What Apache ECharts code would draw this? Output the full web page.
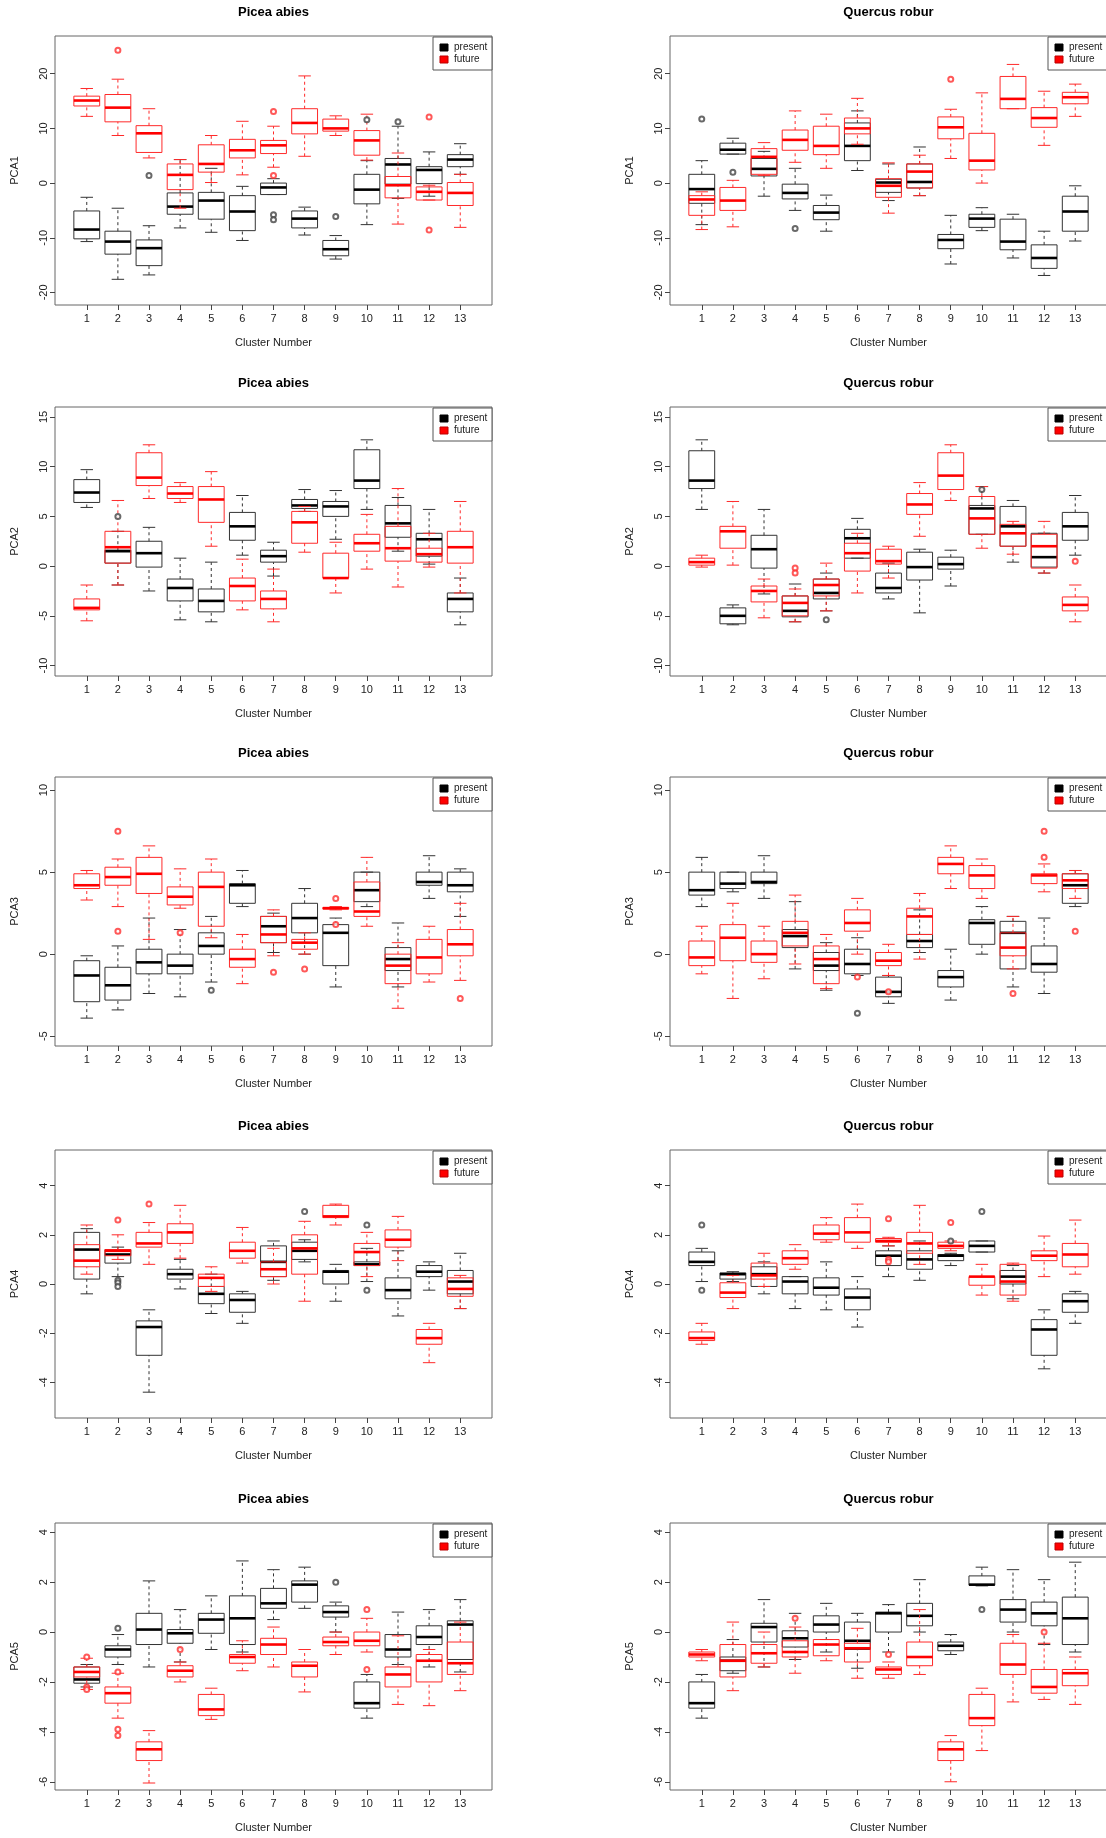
<!DOCTYPE html>
<html><head><meta charset="utf-8">
<script src="https://cdn.jsdelivr.net/npm/echarts@6/dist/echarts.min.js"></script>
<style>html,body{margin:0;padding:0;background:#fff}#c{width:1106px;height:1838px}</style>
</head><body><div id="c"></div>
<script>
const clusters = ['1','2','3','4','5','6','7','8','9','10','11','12','13'];
// each box: [lowerWhisker, Q1, median, Q3, upperWhisker]
const picea_pca1_present = [[-10.7,-10.2,-8.5,-5.1,-2.6],[-17.6,-13.0,-10.7,-8.8,-4.6],[-16.8,-15.1,-11.9,-10.4,-7.8],[-8.2,-5.7,-4.3,-1.8,4.3],[-9.0,-6.6,-3.2,-1.7,2.7],[-10.5,-8.7,-5.2,-2.3,-0.6],[-2.1,-2.1,-0.8,0.0,0.8],[-9.5,-8.2,-6.5,-5.1,-4.4],[-13.9,-13.3,-12.1,-10.5,-9.6],[-7.6,-3.8,-1.2,1.6,4.1],[-2.8,-0.2,3.4,4.5,10.4],[-2.4,-0.1,2.4,3.0,5.7],[1.6,3.0,4.3,5.2,7.2]];
const picea_pca1_future = [[12.2,14.1,15.1,15.9,17.3],[8.7,11.2,13.8,16.2,19.0],[4.6,5.6,9.1,10.5,13.6],[-4.6,-1.2,1.5,3.5,4.3],[0.1,2.0,3.5,7.0,8.7],[1.5,4.6,6.0,8.0,11.3],[2.9,5.4,6.9,7.8,10.4],[4.9,9.0,11.0,13.6,19.6],[8.7,9.5,10.0,11.7,12.3],[4.2,5.1,7.8,9.6,12.6],[-7.5,-2.7,-0.4,1.2,5.5],[-3.1,-3.1,-1.6,-0.7,-0.4],[-8.1,-4.1,-1.8,0.1,1.6]];
const picea_pca1_present_out = [[2,1.4],[6,-5.8],[6,-6.7],[8,-6.1],[9,11.6],[10,11.2]];
const picea_pca1_future_out = [[1,24.3],[6,13.1],[6,1.4],[11,12.1],[11,-8.6]];

const quercus_pca1_present = [[-7.6,-3.7,-1.1,1.6,4.1],[5.3,5.3,6.1,7.3,8.2],[-2.4,1.3,2.6,4.5,5.8],[-5.0,-2.9,-1.8,-0.2,2.7],[-8.8,-6.7,-5.4,-4.1,-2.2],[2.3,4.1,6.8,11.0,13.2],[-3.2,-1.7,0.1,0.7,3.5],[-2.3,-0.9,0.2,3.5,6.6],[-14.8,-12.0,-10.4,-9.4,-5.9],[-8.7,-8.1,-6.5,-5.7,-4.5],[-13.7,-12.2,-10.7,-6.6,-5.7],[-16.9,-15.6,-13.7,-11.3,-8.8],[-10.6,-8.8,-5.2,-2.4,-0.5]];
const quercus_pca1_future = [[-8.5,-5.9,-3.0,-2.3,-1.6],[-8.0,-5.0,-3.2,-0.8,0.5],[1.4,1.6,4.8,6.3,7.4],[3.8,6.0,7.9,9.7,13.2],[2.7,5.2,6.8,10.4,12.6],[7.1,9.0,10.0,11.9,15.5],[-5.5,-2.6,-0.5,0.8,3.7],[-2.3,-0.9,2.1,3.5,5.1],[4.5,8.1,10.2,12.1,13.5],[0.0,2.4,4.1,9.1,16.5],[13.6,13.6,15.4,19.5,21.7],[6.9,10.2,11.9,13.8,16.8],[12.2,14.5,15.7,16.6,18.1]];
const quercus_pca1_present_out = [[0,11.7],[1,2.0],[3,-8.3]];
const quercus_pca1_future_out = [[8,19.0]];

const picea_pca2_present = [[5.9,6.4,7.4,8.7,9.7],[-1.9,0.3,1.5,1.6,3.5],[-2.5,-0.1,1.3,2.5,3.9],[-5.4,-3.5,-2.2,-1.3,0.8],[-5.6,-4.6,-3.5,-2.3,0.4],[1.1,2.6,4.0,5.4,7.1],[-1.0,0.4,1.0,1.6,2.4],[5.5,5.8,6.1,6.7,7.7],[2.7,5.0,6.0,6.5,7.6],[5.7,7.8,8.6,11.7,12.7],[1.5,2.9,4.3,6.1,6.9],[0.2,1.0,2.7,3.3,5.7],[-5.9,-4.6,-3.3,-2.7,-1.2]];
const picea_pca2_future = [[-5.5,-4.4,-4.2,-3.3,-1.9],[-1.9,0.3,1.9,3.5,6.6],[6.8,8.1,8.9,11.4,12.2],[6.4,6.8,7.3,8.0,8.4],[2.0,4.4,6.7,8.0,9.5],[-4.4,-3.5,-2.0,-1.2,0.7],[-5.6,-4.3,-3.3,-2.5,-0.3],[1.4,2.3,4.4,5.5,6.0],[-2.7,-1.2,-1.2,1.3,2.4],[-0.3,1.5,2.3,3.2,5.2],[-2.1,0.5,1.8,4.0,7.8],[-0.1,0.4,1.2,1.8,3.3],[-2.7,0.3,1.9,3.5,6.5]];
const picea_pca2_present_out = [[1,5.0]];
const picea_pca2_future_out = [];

const quercus_pca2_present = [[5.7,7.8,8.6,11.6,12.7],[-5.9,-5.8,-5.0,-4.2,-3.9],[-2.8,-0.2,1.7,3.1,5.7],[-5.6,-5.1,-4.5,-3.0,-1.8],[-4.5,-3.3,-2.7,-1.3,-0.7],[0.8,0.8,2.8,3.7,4.8],[-3.3,-2.7,-2.2,-0.7,0.3],[-4.7,-1.4,-0.1,1.4,1.7],[-2.0,-0.3,0.2,0.9,1.6],[3.2,3.2,5.8,6.1,8.0],[0.4,2.0,4.0,6.0,6.6],[-0.7,-0.1,0.9,3.3,3.3],[1.1,2.6,4.0,5.4,7.1]];
const quercus_pca2_future = [[-0.1,0.1,0.4,0.8,1.1],[0.1,1.8,3.5,4.0,6.5],[-5.2,-3.6,-2.5,-2.0,-1.3],[-5.6,-5.0,-3.7,-3.0,-2.3],[-4.5,-3.0,-1.9,-1.3,0.3],[-2.7,-0.5,1.3,2.3,3.3],[-1.2,0.2,0.5,1.7,2.0],[3.0,5.2,6.2,7.3,8.4],[6.6,7.7,9.1,11.4,12.2],[1.8,3.2,4.8,7.0,8.0],[1.2,2.0,3.3,4.2,4.5],[-0.7,-0.2,2.0,3.2,4.5],[-5.6,-4.5,-3.9,-3.1,-1.9]];
const quercus_pca2_present_out = [[4,-5.4],[9,7.7]];
const quercus_pca2_future_out = [[3,-0.2],[3,-0.7],[12,0.5]];

const picea_pca3_present = [[-3.9,-2.9,-1.3,-0.4,-0.1],[-3.4,-2.8,-1.9,-0.8,0.5],[-2.4,-1.2,-0.5,0.3,2.2],[-2.6,-1.2,-0.7,0.0,1.5],[-1.7,0.0,0.5,1.3,2.3],[2.9,3.1,4.2,4.3,5.1],[0.1,0.7,1.7,2.3,2.5],[0.0,1.3,2.2,3.1,4.0],[-2.0,-0.7,1.3,1.8,2.2],[2.9,3.2,3.9,5.0,5.0],[-2.0,-1.0,-0.3,0.4,1.9],[3.4,4.2,4.4,5.0,6.0],[2.3,3.8,4.2,5.0,5.2]];
const picea_pca3_future = [[3.3,4.0,4.2,4.9,5.1],[2.9,4.2,4.7,5.3,5.8],[0.9,3.7,4.9,5.9,6.6],[2.8,3.0,3.5,4.1,5.2],[1.0,1.7,4.1,5.0,5.8],[-1.8,-0.8,-0.3,0.3,1.2],[-0.1,0.7,1.2,2.3,2.7],[0.0,0.3,0.7,0.9,1.3],[2.7,2.75,2.8,2.85,2.9],[1.7,2.3,2.6,4.4,5.9],[-3.3,-1.8,-0.7,0.0,0.7],[-1.7,-1.2,-0.2,0.9,1.7],[-1.6,-0.1,0.6,1.5,3.1]];
const picea_pca3_present_out = [[4,-2.2]];
const picea_pca3_future_out = [[1,7.5],[1,1.4],[3,1.3],[6,-1.1],[7,-0.9],[8,3.4],[8,1.8],[12,-2.7]];

const quercus_pca3_present = [[2.9,3.6,3.9,5.0,5.9],[3.8,4.0,4.3,5.0,5.0],[3.4,4.3,4.4,5.0,6.0],[-0.9,0.4,1.1,1.5,3.2],[-2.2,-1.0,-0.7,0.1,0.7],[-1.3,-1.2,-0.6,0.3,1.0],[-3.0,-2.6,-2.3,-1.4,-1.3],[0.1,0.4,0.8,1.2,2.7],[-2.8,-2.0,-1.4,-1.0,0.3],[0.0,0.6,1.9,2.1,2.9],[-2.0,-0.9,1.3,2.0,2.3],[-2.4,-1.1,-0.6,0.5,2.2],[2.9,3.1,4.2,4.9,5.1]];
const quercus_pca3_future = [[-1.2,-0.7,-0.2,0.8,1.7],[-2.7,-0.4,1.0,1.8,3.1],[-1.5,-0.5,0.0,0.8,1.7],[-0.6,0.5,1.3,2.0,3.6],[-2.1,-1.8,-0.3,0.5,1.2],[0.0,1.4,1.9,2.7,3.4],[-1.3,-0.7,-0.4,0.1,0.6],[-0.3,1.2,2.3,2.8,3.7],[4.0,4.9,5.5,5.9,6.6],[3.4,4.0,4.8,5.4,5.8],[-0.9,-0.1,0.4,1.3,2.3],[3.8,4.3,4.8,4.9,5.5],[3.4,4.0,4.5,4.9,5.1]];
const quercus_pca3_present_out = [[5,-3.6]];
const quercus_pca3_future_out = [[5,-1.4],[6,-2.3],[10,-2.4],[11,7.5],[11,5.9],[12,1.4]];

const picea_pca4_present = [[-0.4,0.2,1.4,2.1,2.25],[0.3,0.85,1.2,1.4,1.5],[-4.4,-2.9,-1.75,-1.5,-1.05],[-0.2,0.2,0.4,0.6,1.0],[-1.2,-0.8,-0.4,-0.1,0.4],[-1.6,-1.15,-0.65,-0.4,-0.3],[0.15,0.3,0.9,1.55,1.75],[0.9,1.0,1.35,1.7,1.8],[-0.7,0.0,0.5,0.55,0.8],[0.1,0.75,0.8,0.9,1.45],[-1.3,-0.6,-0.25,0.25,1.35],[-0.25,0.3,0.5,0.75,0.9],[-1.0,-0.4,0.1,0.55,1.25]];
const picea_pca4_future = [[0.4,0.7,0.95,1.6,2.4],[1.0,1.15,1.35,1.4,2.0],[0.8,1.5,1.65,2.1,2.5],[1.05,1.65,2.1,2.45,3.2],[-0.3,-0.1,0.25,0.4,0.7],[0.85,1.05,1.35,1.7,2.3],[0.0,0.3,0.6,0.9,1.45],[-0.7,0.4,1.45,2.0,2.55],[2.4,2.7,2.75,3.2,3.25],[0.3,0.75,1.3,1.65,2.1],[0.95,1.5,1.8,2.2,2.75],[-3.2,-2.45,-2.2,-1.85,-1.6],[-1.0,-0.5,-0.2,0.25,0.35]];
const picea_pca4_present_out = [[1,0.15],[1,0.05],[1,-0.1],[7,2.95],[9,2.4],[9,-0.25]];
const picea_pca4_future_out = [[1,2.6],[2,3.25]];

const quercus_pca4_present = [[0.1,0.75,0.9,1.3,1.45],[0.1,0.2,0.4,0.45,0.5],[-0.4,-0.1,0.4,0.7,0.9],[-1.0,-0.4,0.1,0.3,0.3],[-1.05,-0.45,-0.15,0.25,0.9],[-1.75,-1.05,-0.55,-0.2,0.3],[0.3,0.75,1.15,1.35,1.55],[0.15,0.6,1.0,1.35,1.75],[0.75,0.95,1.15,1.2,1.25],[1.3,1.3,1.55,1.75,1.75],[-0.6,0.0,0.3,0.55,0.75],[-3.45,-2.9,-1.85,-1.45,-1.05],[-1.6,-1.15,-0.7,-0.4,-0.3]];
const quercus_pca4_future = [[-2.45,-2.3,-2.2,-1.95,-1.6],[-1.0,-0.55,-0.35,0.05,0.35],[-0.1,0.2,0.35,0.85,1.25],[0.6,0.8,1.05,1.35,1.6],[1.7,1.8,2.05,2.4,2.7],[1.45,1.7,2.1,2.7,3.25],[1.55,1.7,1.75,1.85,1.9],[0.8,1.25,1.65,2.1,3.2],[1.35,1.45,1.55,1.7,1.75],[-0.45,-0.05,0.3,0.3,0.8],[-0.7,-0.45,0.1,0.8,0.85],[0.3,0.95,1.15,1.35,1.95],[0.4,0.7,1.2,1.65,2.6]];
const quercus_pca4_present_out = [[0,2.4],[0,-0.25],[8,1.75],[9,2.95]];
const quercus_pca4_future_out = [[6,2.65],[6,1.0],[6,0.9],[8,2.5]];

const picea_pca5_present = [[-2.2,-2.05,-1.9,-1.4,-1.3],[-1.3,-1.0,-0.7,-0.55,-0.1],[-1.4,-0.5,0.1,0.75,2.05],[-1.2,-0.45,-0.05,0.1,0.9],[-0.7,-0.05,0.5,0.75,1.45],[-0.8,-0.5,0.55,1.45,2.85],[0.5,0.95,1.15,1.75,2.5],[0.95,1.2,1.9,2.05,2.6],[0.0,0.6,0.8,1.05,1.2],[-3.45,-3.05,-2.85,-2.0,-1.7],[-1.3,-1.0,-0.7,-0.1,0.8],[-1.4,-0.5,-0.2,0.25,0.9],[-1.6,-1.1,0.3,0.45,1.3]];
const picea_pca5_future = [[-2.3,-1.8,-1.6,-1.4,-1.05],[-3.45,-2.85,-2.45,-2.2,-1.65],[-6.05,-5.15,-4.7,-4.4,-3.95],[-2.0,-1.8,-1.55,-1.35,-1.2],[-3.5,-3.35,-3.1,-2.5,-2.25],[-1.55,-1.25,-1.0,-0.9,-0.35],[-1.4,-0.9,-0.5,-0.25,0.2],[-2.4,-1.8,-1.35,-1.2,-0.7],[-0.9,-0.55,-0.4,-0.2,0.0],[-0.8,-0.55,-0.35,0.0,0.55],[-2.9,-2.2,-1.7,-1.4,-0.15],[-2.95,-2.0,-1.15,-0.9,-0.7],[-2.35,-1.7,-1.25,-0.4,0.4]];
const picea_pca5_present_out = [[1,0.15],[8,2.0]];
const picea_pca5_future_out = [[0,-2.2],[0,-2.3],[0,-1.0],[1,-1.6],[1,-3.9],[1,-4.15],[3,-0.7],[9,0.9],[9,-1.5]];

const quercus_pca5_present = [[-3.45,-3.05,-2.85,-2.0,-1.7],[-1.65,-1.55,-1.15,-1.0,-0.3],[-1.4,-0.4,0.2,0.35,1.3],[-1.1,-0.6,-0.25,0.05,0.75],[-0.8,0.0,0.3,0.65,1.15],[-1.45,-0.7,-0.35,0.4,0.75],[-0.8,0.0,0.75,0.8,1.1],[0.0,0.25,0.65,1.15,2.1],[-0.9,-0.75,-0.55,-0.4,-0.1],[1.85,1.88,1.9,2.25,2.6],[0.0,0.4,0.9,1.3,2.5],[-0.5,0.25,0.75,1.2,2.1],[-0.8,-0.5,0.55,1.4,2.8]];
const quercus_pca5_future = [[-1.15,-1.0,-0.9,-0.8,-0.7],[-2.35,-1.8,-1.15,-0.5,0.4],[-1.4,-1.25,-0.85,-0.5,0.0],[-1.65,-1.0,-0.8,-0.35,0.2],[-1.15,-0.95,-0.5,-0.3,-0.3],[-1.85,-1.2,-0.65,-0.45,0.15],[-1.85,-1.7,-1.5,-1.4,-1.2],[-1.7,-1.35,-1.0,-0.4,0.9],[-6.0,-5.15,-4.7,-4.4,-4.15],[-4.75,-3.75,-3.45,-2.5,-2.25],[-2.8,-1.7,-1.3,-0.45,-0.1],[-2.7,-2.45,-2.2,-1.5,-0.45],[-2.9,-2.15,-1.65,-1.5,-1.0]];
const quercus_pca5_present_out = [[9,0.9]];
const quercus_pca5_future_out = [[3,0.55],[6,-0.9],[11,0.0]];

const yTicks = {
  PCA1: [-20,-10,0,10,20], PCA2: [-10,-5,0,5,10,15], PCA3: [-5,0,5,10],
  PCA4: [-4,-2,0,2,4], PCA5: [-6,-4,-2,0,2,4]
};
const yRange = {PCA1:[-22.3,26.9], PCA2:[-11.05,16], PCA3:[-5.6,10.8], PCA4:[-5.45,5.45], PCA5:[-6.33,4.37]};

const panels = [
  ['Picea abies','PCA1',picea_pca1_present,picea_pca1_future,picea_pca1_present_out,picea_pca1_future_out],
  ['Quercus robur','PCA1',quercus_pca1_present,quercus_pca1_future,quercus_pca1_present_out,quercus_pca1_future_out],
  ['Picea abies','PCA2',picea_pca2_present,picea_pca2_future,picea_pca2_present_out,picea_pca2_future_out],
  ['Quercus robur','PCA2',quercus_pca2_present,quercus_pca2_future,quercus_pca2_present_out,quercus_pca2_future_out],
  ['Picea abies','PCA3',picea_pca3_present,picea_pca3_future,picea_pca3_present_out,picea_pca3_future_out],
  ['Quercus robur','PCA3',quercus_pca3_present,quercus_pca3_future,quercus_pca3_present_out,quercus_pca3_future_out],
  ['Picea abies','PCA4',picea_pca4_present,picea_pca4_future,picea_pca4_present_out,picea_pca4_future_out],
  ['Quercus robur','PCA4',quercus_pca4_present,quercus_pca4_future,quercus_pca4_present_out,quercus_pca4_future_out],
  ['Picea abies','PCA5',picea_pca5_present,picea_pca5_future,picea_pca5_present_out,picea_pca5_future_out],
  ['Quercus robur','PCA5',quercus_pca5_present,quercus_pca5_future,quercus_pca5_present_out,quercus_pca5_future_out]
];

const frameL = [55, 670], frameW = 437;
const tops = [36, 407, 777, 1150, 1523], heights = [269, 269, 269, 268, 267];
const inset = 16.2;
const COL = {present: '#333333', future: '#ff2a2a'};

function boxRender(color) {
  return function (params, api) {
    const x = api.value(0);
    const v = [1,2,3,4,5].map(i => api.value(i));
    const p = v.map(val => api.coord([x, val]));
    const unit = api.size([1, 0])[0];
    const hw = unit * 0.415, cw = unit * 0.2;
    const cx = p[0][0];
    const st = {stroke: color, lineWidth: 1, fill: null};
    const dash = {stroke: color, lineWidth: 1, lineDash: [3, 3]};
    return {type: 'group', children: [
      {type: 'line', shape: {x1: cx, y1: p[0][1], x2: cx, y2: p[1][1]}, style: dash},
      {type: 'line', shape: {x1: cx, y1: p[3][1], x2: cx, y2: p[4][1]}, style: dash},
      {type: 'line', shape: {x1: cx - cw, y1: p[0][1], x2: cx + cw, y2: p[0][1]}, style: st},
      {type: 'line', shape: {x1: cx - cw, y1: p[4][1], x2: cx + cw, y2: p[4][1]}, style: st},
      {type: 'rect', shape: {x: cx - hw, y: p[3][1], width: 2 * hw, height: Math.max(p[1][1] - p[3][1], 1)}, style: st},
      {type: 'line', shape: {x1: cx - hw, y1: p[2][1], x2: cx + hw, y2: p[2][1]}, style: {stroke: color === COL.present ? '#000' : '#ff0000', lineWidth: 2.6}}
    ]};
  };
}

const grid = [], xAxis = [], yAxis = [], series = [], graphic = [];
panels.forEach((pn, k) => {
  const [species, pc, pres, fut, presOut, futOut] = pn;
  const col = k % 2, row = Math.floor(k / 2);
  const fl = frameL[col], ft = tops[row], fh = heights[row];
  grid.push({left: fl + inset, top: ft, width: frameW - 2 * inset, height: fh});
  xAxis.push({type: 'category', gridIndex: k, data: clusters, boundaryGap: true, position: 'bottom',
    axisLine: {show: false, onZero: false}, axisTick: {show: true, alignWithLabel: true, length: 5, lineStyle: {color: '#444'}},
    axisLabel: {color: '#222', fontSize: 11, margin: 8, interval: 0, fontFamily: 'Liberation Sans, Arial'}, splitLine: {show: false}});
  xAxis.push({type: 'category', gridIndex: k, data: clusters, show: false, position: 'bottom',
    axisLine: {show: false, onZero: false}, axisTick: {show: false}, axisLabel: {show: false}});
  const ticks = yTicks[pc];
  yAxis.push({type: 'value', gridIndex: k, min: yRange[pc][0], max: yRange[pc][1], offset: inset,
    axisLine: {show: false, onZero: false}, splitLine: {show: false},
    axisTick: {show: true, length: 5, customValues: ticks, lineStyle: {color: '#444'}},
    axisLabel: {show: true, customValues: ticks, rotate: 90, fontSize: 11, color: '#222', margin: 6, fontFamily: 'Liberation Sans, Arial'}});
  series.push({type: 'custom', xAxisIndex: 2 * k, yAxisIndex: k, renderItem: boxRender(COL.present),
    data: pres.map((b, i) => [i, ...b]), encode: {x: 0, y: [1,2,3,4,5]}, silent: true});
  series.push({type: 'custom', xAxisIndex: 2 * k + 1, yAxisIndex: k, renderItem: boxRender(COL.future),
    data: fut.map((b, i) => [i, ...b]), encode: {x: 0, y: [1,2,3,4,5]}, silent: true});
  series.push({type: 'scatter', xAxisIndex: 2 * k, yAxisIndex: k, data: presOut, symbol: 'emptyCircle', symbolSize: 5,
    itemStyle: {color: '#444', borderWidth: 1}, silent: true});
  series.push({type: 'scatter', xAxisIndex: 2 * k + 1, yAxisIndex: k, data: futOut, symbol: 'emptyCircle', symbolSize: 5,
    itemStyle: {color: '#ff3030', borderWidth: 1}, silent: true});
  graphic.push({type: 'rect', shape: {x: fl, y: ft, width: frameW, height: fh}, style: {stroke: '#666', lineWidth: 1, fill: null}, silent: true});
  graphic.push({type: 'text', x: fl + frameW / 2, y: ft - 24, style: {text: species, font: 'bold 13px Liberation Sans, Arial', fill: '#000', align: 'center', verticalAlign: 'middle'}});
  graphic.push({type: 'text', x: fl + frameW / 2, y: ft + fh + 38, style: {text: 'Cluster Number', font: '11px Liberation Sans, Arial', fill: '#222', align: 'center', verticalAlign: 'middle'}});
  graphic.push({type: 'text', x: fl - 40, y: ft + fh / 2, rotation: Math.PI / 2, style: {text: pc, font: '11px Liberation Sans, Arial', fill: '#222', align: 'center', verticalAlign: 'middle'}});
  const lx = fl + frameW - 59, ly = ft + 1;
  graphic.push({type: 'rect', shape: {x: lx, y: ly, width: 59, height: 33}, style: {stroke: '#555', lineWidth: 1, fill: '#fff'}});
  graphic.push({type: 'rect', shape: {x: lx + 7, y: ly + 7, width: 8, height: 7}, style: {fill: '#000', stroke: '#000'}});
  graphic.push({type: 'rect', shape: {x: lx + 7, y: ly + 19, width: 8, height: 7}, style: {fill: '#ff0000', stroke: '#b00'}});
  graphic.push({type: 'text', x: lx + 21, y: ly + 10.5, style: {text: 'present', font: '10px Liberation Sans, Arial', fill: '#222', verticalAlign: 'middle'}});
  graphic.push({type: 'text', x: lx + 21, y: ly + 22.5, style: {text: 'future', font: '10px Liberation Sans, Arial', fill: '#222', verticalAlign: 'middle'}});
});

const chart = echarts.init(document.getElementById('c'), null, {renderer: 'canvas'});
chart.setOption({animation: false, backgroundColor: '#fff', grid, xAxis, yAxis, series, graphic});
</script></body></html>
